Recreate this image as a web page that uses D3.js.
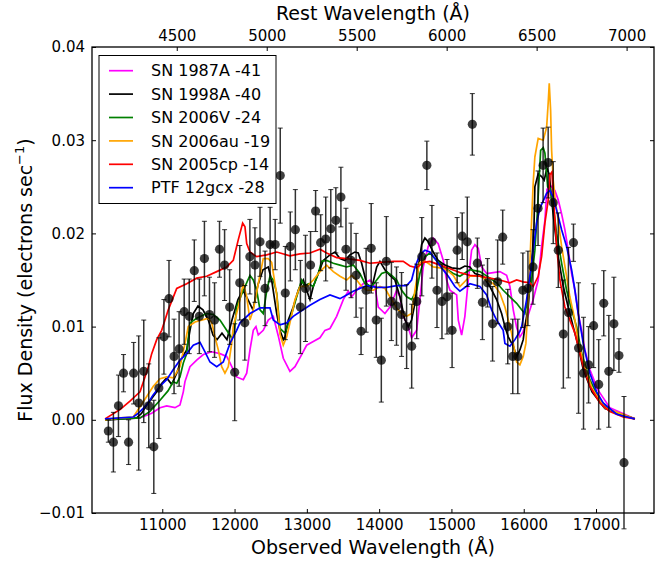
<!DOCTYPE html>
<html>
<head>
<meta charset="utf-8">
<script src="https://cdnjs.cloudflare.com/ajax/libs/d3/7.8.5/d3.min.js"></script>
<style>
  body { margin: 0; background: #fff; }
  svg { display: block; font-family: "DejaVu Sans", sans-serif; }
</style>
</head>
<body>
<div id="chart"></div>
<script>
// observed photometry-like spectrum points (observed wavelength, flux, 1-sigma error)
const obsWave = [10254,10324,10394,10464,10534,10604,10674,10744,10813,10883,
  10953,11023,11093,11163,11233,11303,11373,11443,11513,11583,
  11653,11723,11792,11862,11932,12002,12072,12142,12212,12282,
  12352,12422,12492,12562,12632,12702,12771,12841,12911,12981,
  13051,13121,13191,13261,13331,13401,13471,13541,13611,13681,
  13750,13820,13890,13960,14030,14100,14170,14240,14310,14380,
  14450,14520,14590,14660,14730,14800,14869,14939,15009,15079,
  15149,15219,15289,15359,15429,15499,15569,15639,15709,15779,
  15848,15918,15988,16058,16128,16198,16268,16338,16408,16478,
  16548,16618,16688,16758,16827,16897,16967,17037,17107,17177,
  17247,17317,17387];
const obsFlux = [-0.0012,-0.0024,0.0015,0.0050,-0.0024,0.0050,0.0018,0.0052,0.0015,-0.0029,
  0.0034,0.0089,0.0130,0.0068,0.0076,0.0116,0.0111,0.0160,0.0111,0.0173,
  0.0113,0.0107,0.0183,0.0166,0.0121,0.0051,0.0147,0.0104,0.0175,0.0166,
  0.0191,0.0141,0.0188,0.0188,0.0262,0.0136,0.0186,0.0204,0.0121,0.0141,
  0.0166,0.0224,0.0190,0.0194,0.0205,0.0214,0.0239,0.0183,0.0171,0.0155,
  0.0095,0.0139,0.0184,0.0107,0.0064,0.0170,0.0127,0.0122,0.0113,0.0100,
  0.0079,0.0127,0.0175,0.0273,0.0191,0.0139,0.0127,0.0132,0.0096,0.0182,
  0.0197,0.0191,0.0317,0.0168,0.0126,0.0147,0.0103,0.0148,0.0196,0.0100,
  0.0068,0.0068,0.0139,0.0141,0.0164,0.0227,0.0273,0.0276,0.0233,0.0182,
  0.0092,0.0115,0.0190,0.0077,0.0050,0.0059,0.0101,0.0038,0.0125,0.0052,
  0.0103,0.0069,-0.0046];
const obsErr = [0.0012,0.0032,0.0033,0.0020,0.0024,0.0033,0.0072,0.0055,0.0045,0.0050,
  0.0054,0.0040,0.0041,0.0040,0.0040,0.0035,0.0040,0.0033,0.0040,0.0040,
  0.0040,0.0040,0.0030,0.0038,0.0040,0.0052,0.0040,0.0040,0.0040,0.0040,
  0.0037,0.0040,0.0040,0.0027,0.0051,0.0050,0.0037,0.0043,0.0050,0.0057,
  0.0036,0.0022,0.0030,0.0045,0.0042,0.0035,0.0032,0.0044,0.0040,0.0045,
  0.0025,0.0045,0.0048,0.0040,0.0045,0.0048,0.0042,0.0042,0.0045,0.0045,
  0.0045,0.0040,0.0042,0.0026,0.0039,0.0040,0.0040,0.0040,0.0040,0.0035,
  0.0025,0.0048,0.0033,0.0027,0.0040,0.0026,0.0040,0.0045,0.0029,0.0040,
  0.0040,0.0040,0.0040,0.0040,0.0040,0.0040,0.0040,0.0038,0.0044,0.0040,
  0.0058,0.0070,0.0020,0.0070,0.0060,0.0041,0.0045,0.0048,0.0035,0.0060,
  0.0050,0.0018,0.0071];

// template spectra, [observed wavelength, flux]
const sn1987A = [[10208,0.0000],[10692,0.0002],[10854,0.0007],[10969,0.0013],[11061,0.0015],[11176,0.0013],
  [11245,0.0016],[11291,0.0030],[11314,0.0041],[11383,0.0057],[11476,0.0064],[11568,0.0070],[11684,0.0073],
  [11798,0.0071],[11891,0.0068],[11937,0.0061],[12029,0.0046],[12121,0.0043],[12168,0.0050],[12213,0.0075],
  [12259,0.0096],[12296,0.0100],[12328,0.0091],[12397,0.0096],[12466,0.0107],[12536,0.0111],[12605,0.0090],
  [12674,0.0066],[12766,0.0052],[12836,0.0057],[12928,0.0070],[12997,0.0080],[13089,0.0084],[13181,0.0088],
  [13250,0.0096],[13320,0.0098],[13412,0.0111],[13504,0.0129],[13573,0.0138],[13620,0.0132],[13689,0.0139],
  [13780,0.0146],[13873,0.0150],[13942,0.0143],[13988,0.0121],[14080,0.0114],[14149,0.0121],[14242,0.0139],
  [14288,0.0132],[14333,0.0111],[14380,0.0104],[14449,0.0088],[14519,0.0096],[14564,0.0129],[14610,0.0164],
  [14679,0.0186],[14748,0.0195],[14817,0.0189],[14887,0.0171],[14933,0.0150],[14979,0.0139],[15072,0.0134],
  [15095,0.0107],[15141,0.0091],[15186,0.0111],[15233,0.0150],[15279,0.0182],[15325,0.0188],[15371,0.0184],
  [15418,0.0164],[15487,0.0157],[15578,0.0158],[15670,0.0159],[15763,0.0155],[15809,0.0143],[15855,0.0118],
  [15902,0.0099],[15947,0.0089],[15989,0.0094],[16040,0.0107],[16131,0.0129],[16200,0.0150],[16247,0.0186],
  [16293,0.0214],[16321,0.0247],[16362,0.0252],[16431,0.0246],[16477,0.0236],[16524,0.0221],[16569,0.0204],
  [16615,0.0182],[16662,0.0157],[16708,0.0139],[16754,0.0114],[16800,0.0096],[16846,0.0075],[16915,0.0054],
  [17026,0.0032],[17191,0.0013],[17537,0.0001]];
const sn1998A = [[10208,0.0000],[10646,0.0002],[10715,0.0007],[10785,0.0016],[10854,0.0023],[10923,0.0030],
  [10992,0.0039],[11061,0.0045],[11130,0.0038],[11200,0.0050],[11269,0.0066],[11338,0.0075],[11383,0.0096],
  [11429,0.0114],[11494,0.0122],[11563,0.0118],[11637,0.0107],[11702,0.0091],[11757,0.0086],[11826,0.0093],
  [11895,0.0086],[11964,0.0107],[12047,0.0129],[12116,0.0139],[12185,0.0129],[12255,0.0118],[12324,0.0145],
  [12393,0.0161],[12466,0.0164],[12513,0.0150],[12583,0.0114],[12628,0.0096],[12674,0.0086],[12697,0.0089],
  [12743,0.0107],[12812,0.0121],[12881,0.0139],[12951,0.0150],[12997,0.0139],[13043,0.0129],[13089,0.0143],
  [13158,0.0157],[13227,0.0171],[13320,0.0177],[13389,0.0180],[13458,0.0173],[13527,0.0171],[13596,0.0177],
  [13665,0.0180],[13711,0.0179],[13758,0.0168],[13827,0.0146],[13897,0.0141],[13966,0.0164],[14011,0.0170],
  [14080,0.0161],[14149,0.0155],[14218,0.0150],[14288,0.0132],[14357,0.0107],[14403,0.0100],[14449,0.0107],
  [14495,0.0125],[14541,0.0164],[14588,0.0188],[14633,0.0195],[14679,0.0191],[14748,0.0180],[14817,0.0171],
  [14910,0.0166],[15003,0.0163],[15117,0.0162],[15186,0.0165],[15256,0.0164],[15325,0.0157],[15440,0.0154],
  [15532,0.0143],[15625,0.0129],[15694,0.0114],[15740,0.0100],[15786,0.0089],[15855,0.0079],[15902,0.0068],
  [15947,0.0075],[15993,0.0086],[16016,0.0100],[16062,0.0121],[16109,0.0168],[16141,0.0204],[16154,0.0250],
  [16200,0.0264],[16247,0.0261],[16283,0.0257],[16321,0.0270],[16355,0.0263],[16386,0.0236],[16431,0.0204],
  [16477,0.0175],[16547,0.0143],[16615,0.0121],[16684,0.0100],[16754,0.0079],[16823,0.0054],[16944,0.0030],
  [17123,0.0012],[17537,0.0001]];
const sn2006V = [[10208,0.0000],[10692,0.0002],[10830,0.0009],[10969,0.0021],[11079,0.0031],[11153,0.0041],
  [11200,0.0039],[11245,0.0046],[11291,0.0061],[11338,0.0071],[11383,0.0104],[11476,0.0109],[11614,0.0114],
  [11706,0.0113],[11798,0.0107],[11891,0.0096],[11960,0.0088],[11992,0.0091],[12029,0.0121],[12121,0.0139],
  [12213,0.0155],[12259,0.0150],[12306,0.0139],[12352,0.0118],[12397,0.0114],[12444,0.0138],[12490,0.0154],
  [12536,0.0150],[12583,0.0136],[12628,0.0098],[12697,0.0093],[12766,0.0107],[12859,0.0132],[12928,0.0150],
  [12974,0.0143],[13020,0.0146],[13089,0.0143],[13158,0.0157],[13205,0.0170],[13274,0.0171],[13366,0.0168],
  [13458,0.0166],[13551,0.0164],[13642,0.0166],[13734,0.0157],[13804,0.0146],[13897,0.0143],[13966,0.0150],
  [14035,0.0157],[14104,0.0159],[14173,0.0155],[14242,0.0150],[14311,0.0139],[14380,0.0132],[14449,0.0129],
  [14519,0.0139],[14564,0.0157],[14633,0.0175],[14702,0.0179],[14795,0.0171],[14887,0.0164],[15025,0.0157],
  [15117,0.0154],[15256,0.0161],[15394,0.0159],[15532,0.0152],[15625,0.0147],[15716,0.0139],[15809,0.0132],
  [15902,0.0125],[15971,0.0118],[16016,0.0114],[16062,0.0132],[16109,0.0150],[16154,0.0182],[16187,0.0221],
  [16234,0.0289],[16270,0.0292],[16293,0.0286],[16317,0.0264],[16331,0.0250],[16362,0.0249],[16408,0.0229],
  [16455,0.0200],[16524,0.0168],[16593,0.0139],[16662,0.0118],[16731,0.0100],[16805,0.0070],[16915,0.0043],
  [17053,0.0021],[17219,0.0009],[17537,0.0001]];
const sn2006au = [[10208,0.0000],[10415,0.0002],[10599,0.0003],[10692,0.0014],[10785,0.0025],[10876,0.0036],
  [10969,0.0044],[11061,0.0046],[11153,0.0045],[11245,0.0057],[11314,0.0082],[11360,0.0100],[11453,0.0105],
  [11545,0.0107],[11637,0.0109],[11684,0.0104],[11729,0.0089],[11775,0.0075],[11822,0.0057],[11867,0.0050],
  [11913,0.0057],[11960,0.0082],[11982,0.0100],[12051,0.0121],[12121,0.0146],[12168,0.0132],[12213,0.0107],
  [12259,0.0118],[12328,0.0146],[12397,0.0173],[12466,0.0173],[12513,0.0169],[12583,0.0134],[12628,0.0092],
  [12674,0.0080],[12721,0.0089],[12766,0.0104],[12836,0.0129],[12905,0.0143],[12997,0.0143],[13089,0.0150],
  [13181,0.0159],[13274,0.0166],[13366,0.0159],[13458,0.0154],[13551,0.0150],[13620,0.0155],[13689,0.0150],
  [13758,0.0143],[13827,0.0139],[13919,0.0139],[14011,0.0143],[14080,0.0141],[14149,0.0132],[14242,0.0120],
  [14311,0.0114],[14380,0.0111],[14449,0.0114],[14495,0.0139],[14555,0.0168],[14610,0.0171],[14679,0.0168],
  [14748,0.0164],[14841,0.0163],[14933,0.0161],[15025,0.0155],[15117,0.0143],[15256,0.0154],[15394,0.0154],
  [15487,0.0150],[15578,0.0146],[15670,0.0136],[15740,0.0121],[15786,0.0107],[15832,0.0093],[15855,0.0082],
  [15902,0.0062],[15947,0.0059],[15993,0.0068],[16030,0.0082],[16048,0.0107],[16076,0.0150],[16109,0.0214],
  [16131,0.0254],[16154,0.0282],[16200,0.0302],[16270,0.0300],[16317,0.0314],[16339,0.0341],[16353,0.0361],
  [16372,0.0332],[16386,0.0289],[16408,0.0257],[16431,0.0239],[16477,0.0214],[16524,0.0186],[16593,0.0154],
  [16638,0.0132],[16708,0.0107],[16749,0.0086],[16832,0.0060],[16942,0.0034],[17122,0.0013],[17537,0.0001]];
const sn2005cp = [[10208,0.0001],[10415,0.0011],[10553,0.0020],[10692,0.0030],[10761,0.0046],[10807,0.0057],
  [10854,0.0071],[10923,0.0086],[10992,0.0096],[11083,0.0118],[11200,0.0141],[11338,0.0146],[11476,0.0152],
  [11614,0.0154],[11753,0.0159],[11891,0.0164],[11982,0.0171],[12051,0.0193],[12112,0.0211],[12144,0.0207],
  [12168,0.0189],[12213,0.0180],[12306,0.0175],[12444,0.0177],[12583,0.0180],[12766,0.0176],[12905,0.0178],
  [13043,0.0179],[13181,0.0183],[13274,0.0179],[13412,0.0174],[13551,0.0173],[13734,0.0171],[13873,0.0168],
  [14011,0.0169],[14195,0.0170],[14333,0.0170],[14426,0.0165],[14519,0.0163],[14610,0.0169],[14702,0.0170],
  [14841,0.0166],[14979,0.0162],[15117,0.0158],[15256,0.0155],[15394,0.0154],[15532,0.0152],[15670,0.0150],
  [15809,0.0147],[15902,0.0150],[15993,0.0148],[16085,0.0147],[16131,0.0143],[16200,0.0154],[16247,0.0175],
  [16293,0.0211],[16339,0.0236],[16362,0.0263],[16390,0.0266],[16408,0.0241],[16431,0.0215],[16455,0.0186],
  [16500,0.0150],[16569,0.0121],[16638,0.0107],[16708,0.0093],[16823,0.0057],[16915,0.0036],[17053,0.0018],
  [17191,0.0009],[17376,0.0003],[17537,0.0001]];
const ptf12gcx = [[10208,0.0001],[10599,0.0003],[10668,0.0007],[10785,0.0016],[10876,0.0027],[10969,0.0036],
  [11061,0.0043],[11153,0.0054],[11245,0.0064],[11338,0.0071],[11429,0.0080],[11522,0.0083],[11591,0.0073],
  [11660,0.0062],[11753,0.0057],[11844,0.0062],[11937,0.0082],[12029,0.0096],[12075,0.0104],[12213,0.0114],
  [12352,0.0120],[12490,0.0120],[12536,0.0107],[12628,0.0102],[12721,0.0104],[12812,0.0111],[12905,0.0116],
  [13043,0.0123],[13181,0.0129],[13320,0.0134],[13458,0.0130],[13551,0.0134],[13642,0.0138],[13734,0.0141],
  [13827,0.0144],[13966,0.0142],[14104,0.0142],[14242,0.0144],[14380,0.0144],[14449,0.0150],[14495,0.0164],
  [14564,0.0177],[14633,0.0182],[14702,0.0180],[14772,0.0173],[14864,0.0163],[14956,0.0154],[15048,0.0143],
  [15117,0.0138],[15256,0.0146],[15394,0.0143],[15487,0.0134],[15556,0.0118],[15625,0.0107],[15716,0.0096],
  [15740,0.0082],[15809,0.0079],[15878,0.0086],[15947,0.0095],[15971,0.0100],[16040,0.0129],[16109,0.0168],
  [16178,0.0211],[16224,0.0227],[16317,0.0243],[16362,0.0246],[16408,0.0239],[16455,0.0225],[16524,0.0204],
  [16593,0.0186],[16662,0.0161],[16708,0.0139],[16754,0.0114],[16800,0.0093],[16823,0.0082],[16915,0.0050],
  [17008,0.0030],[17099,0.0018],[17284,0.0006],[17537,0.0001]];

const templates = [sn1987A, sn1998A, sn2006V, sn2006au, sn2005cp, ptf12gcx];
const templateNames = ["SN 1987A -41", "SN 1998A -40", "SN 2006V -24", "SN 2006au -19", "SN 2005cp -14", "PTF 12gcx -28"];
const templateColors = ["#ff00ff", "#000000", "#008000", "#ffa500", "#ff0000", "#0000ff"];

const obsTicks = [11000, 12000, 13000, 14000, 15000, 16000, 17000];
const restTicks = [4500, 5000, 5500, 6000, 6500, 7000];
const fluxTicks = [-0.01, 0.00, 0.01, 0.02, 0.03, 0.04];
const onePlusZ = 2.489;

// layout
const W = 668, H = 561;
const plot = { left: 92, right: 654, top: 47, bottom: 513 };

const svg = d3.select("#chart").append("svg")
  .attr("width", W).attr("height", H);

const x = d3.scaleLinear().domain([10028, 17802]).range([plot.left, plot.right]);
const xRest = d3.scaleLinear().domain([10028 / onePlusZ, 17802 / onePlusZ]).range([plot.left, plot.right]);
const y = d3.scaleLinear().domain([-0.01, 0.04]).range([plot.bottom, plot.top]);

// template spectra
const line = d3.line().x(d => x(d[0])).y(d => y(d[1]));
templates.forEach((t, i) => {
  svg.append("path")
    .attr("d", line(t))
    .attr("fill", "none")
    .attr("stroke", templateColors[i])
    .attr("stroke-width", 1.7)
    .attr("stroke-linejoin", "miter");
});

// data points with error bars
const pts = obsWave.map((w, i) => ({ w: w, f: obsFlux[i], e: obsErr[i] }));
const eb = svg.append("g").attr("stroke", "#000").attr("stroke-opacity", 0.8).attr("stroke-width", 1.5);
pts.forEach(p => {
  const cx = x(p.w), y0 = y(p.f - p.e), y1 = y(p.f + p.e);
  eb.append("line").attr("x1", cx).attr("x2", cx).attr("y1", y0).attr("y2", y1);
  eb.append("line").attr("x1", cx - 2.5).attr("x2", cx + 2.5).attr("y1", y0).attr("y2", y0).attr("stroke-width", 1);
  eb.append("line").attr("x1", cx - 2.5).attr("x2", cx + 2.5).attr("y1", y1).attr("y2", y1).attr("stroke-width", 1);
});
svg.append("g").selectAll("circle")
  .data(pts)
  .join("circle")
  .attr("cx", d => x(d.w))
  .attr("cy", d => y(d.f))
  .attr("r", 4.6)
  .attr("fill", "#000")
  .attr("fill-opacity", 0.75);

// axes
function styleAxis(g) {
  g.attr("font-family", "DejaVu Sans, sans-serif").attr("font-size", 15);
  g.selectAll("text").attr("fill", "#000");
  g.selectAll("line").attr("stroke", "#000").attr("stroke-width", 1);
  g.select(".domain").remove();
}

svg.append("g")
  .attr("transform", `translate(0,${plot.bottom})`)
  .call(d3.axisBottom(x).tickValues(obsTicks).tickSizeInner(-4).tickSizeOuter(0).tickPadding(6).tickFormat(d3.format("d")))
  .call(styleAxis);

svg.append("g")
  .attr("transform", `translate(0,${plot.top})`)
  .call(d3.axisTop(xRest).tickValues(restTicks).tickSizeInner(-4).tickSizeOuter(0).tickPadding(6).tickFormat(d3.format("d")))
  .call(styleAxis);

svg.append("g")
  .attr("transform", `translate(${plot.left},0)`)
  .call(d3.axisLeft(y).tickValues(fluxTicks).tickSizeInner(-4).tickSizeOuter(0).tickPadding(7).tickFormat(d3.format(".2f")))
  .call(styleAxis);

svg.append("g")
  .attr("transform", `translate(${plot.right},0)`)
  .call(d3.axisRight(y).tickValues(fluxTicks).tickSizeInner(-4).tickSizeOuter(0).tickFormat(""))
  .call(styleAxis);

// frame
svg.append("rect")
  .attr("x", plot.left).attr("y", plot.top)
  .attr("width", plot.right - plot.left).attr("height", plot.bottom - plot.top)
  .attr("fill", "none").attr("stroke", "#000").attr("stroke-width", 1.3);

// axis labels
const cx = (plot.left + plot.right) / 2;
svg.append("text").attr("x", cx).attr("y", 554).attr("text-anchor", "middle")
  .attr("font-size", 19).text("Observed Wavelength (Å)");
svg.append("text").attr("x", cx).attr("y", 20).attr("text-anchor", "middle")
  .attr("font-size", 19).text("Rest Wavelength (Å)");
const yl = svg.append("text")
  .attr("transform", `translate(32,${(plot.top + plot.bottom) / 2}) rotate(-90)`)
  .attr("text-anchor", "middle").attr("font-size", 19);
yl.append("tspan").text("Flux Density (electrons sec");
yl.append("tspan").attr("font-size", 13).attr("dy", -8).text("−1");
yl.append("tspan").attr("dy", 8).text(")");

// legend
const lg = svg.append("g");
lg.append("rect").attr("x", 99).attr("y", 55.5).attr("width", 177).attr("height", 148)
  .attr("fill", "#fff").attr("stroke", "#000").attr("stroke-width", 1);
templateNames.forEach((name, i) => {
  const ry = 70.7 + i * 23.4;
  lg.append("line").attr("x1", 109).attr("x2", 133).attr("y1", ry).attr("y2", ry)
    .attr("stroke", templateColors[i]).attr("stroke-width", 1.7);
  lg.append("text").attr("x", 151).attr("y", ry).attr("dy", "0.36em")
    .attr("font-size", 16).text(name);
});
</script>
</body>
</html>
